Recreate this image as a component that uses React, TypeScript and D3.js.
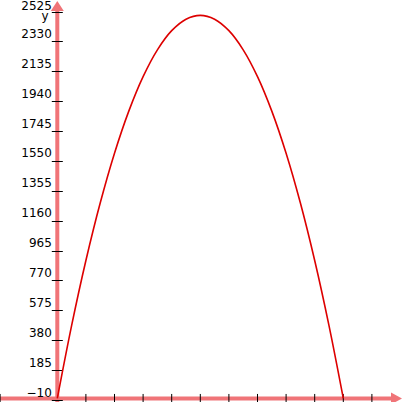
import * as d3 from 'd3';

// Values
const xs = [0, 0.5, 1, 1.5, 2, 2.5, 3, 3.5, 4, 4.5, 5, 5.5, 6, 6.5, 7, 7.5, 8, 8.5, 9, 9.5, 10];
const ys = [0, 475, 900, 1275, 1600, 1875, 2100, 2275, 2400, 2475, 2500, 2475, 2400, 2275, 2100, 1875, 1600, 1275, 900, 475, 0];
const yTickValues = [-10, 185, 380, 575, 770, 965, 1160, 1355, 1550, 1745, 1940, 2135, 2330, 2525];
const xTickValues = [-2, 1, 2, 3, 4, 5, 6, 7, 8, 9, 10, 11];

const W = 408;
const H = 402;
const AXIS = '#f07478';
const FONT = 'DejaVu Sans, sans-serif';

export default function App() {
  // pixel positions fitted to the reference grid
  const x = d3.scaleLinear().domain([0, 10]).range([57.3, 343.3]);
  const y = d3.scaleLinear().domain([-10, 2525]).range([400, 11.5]);

  const x0 = x(0);
  const y0 = y(0);

  const line = d3
    .line<number>()
    .x((_, i) => x(xs[i]))
    .y((d) => y(d))
    .curve(d3.curveCatmullRom);

  return (
    <svg
      width={W}
      height={H}
      style={{ position: 'absolute', left: 0, top: 0, background: '#fff' }}
    >
      {/* axes */}
      <line x1={0} x2={394} y1={y0} y2={y0} stroke={AXIS} strokeWidth={4} />
      <path
        d={`M${391},${y0 - 6} L${402},${y0} L${391},${y0 + 6} Z`}
        fill={AXIS}
      />
      <line x1={x0} x2={x0} y1={H} y2={10} stroke={AXIS} strokeWidth={4} />
      <path
        d={`M${x0 - 6.5},${11} L${x0},${1} L${x0 + 6.5},${11} Z`}
        fill={AXIS}
      />

      {/* x ticks */}
      {xTickValues.map((t) => (
        <line
          key={`xt-${t}`}
          x1={x(t)}
          x2={x(t)}
          y1={y0 - 4.5}
          y2={y0 + 4}
          stroke="#000"
          strokeWidth={1}
        />
      ))}

      {/* y ticks + labels */}
      {yTickValues.map((t) => (
        <g key={`yt-${t}`}>
          <line
            x1={x0 - 5.5}
            x2={x0 + 5.5}
            y1={Math.round(y(t)) + 0.5}
            y2={Math.round(y(t)) + 0.5}
            stroke="#000"
            strokeWidth={1}
          />
          <text
            x={x0 - 5.5}
            y={Math.max(9.5, y(t) - 3.5)}
            textAnchor="end"
            fontSize={12}
            fontFamily={FONT}
            fill="#000"
          >
            {t < 0 ? `\u2212${-t}` : t}
          </text>
        </g>
      ))}

      <text x={45} y={20} textAnchor="middle" fontSize={12} fontFamily={FONT} fill="#000">
        y
      </text>

      {/* curve */}
      <path d={line(ys) ?? undefined} fill="none" stroke="#dd0000" strokeWidth={1.6} />
    </svg>
  );
}
